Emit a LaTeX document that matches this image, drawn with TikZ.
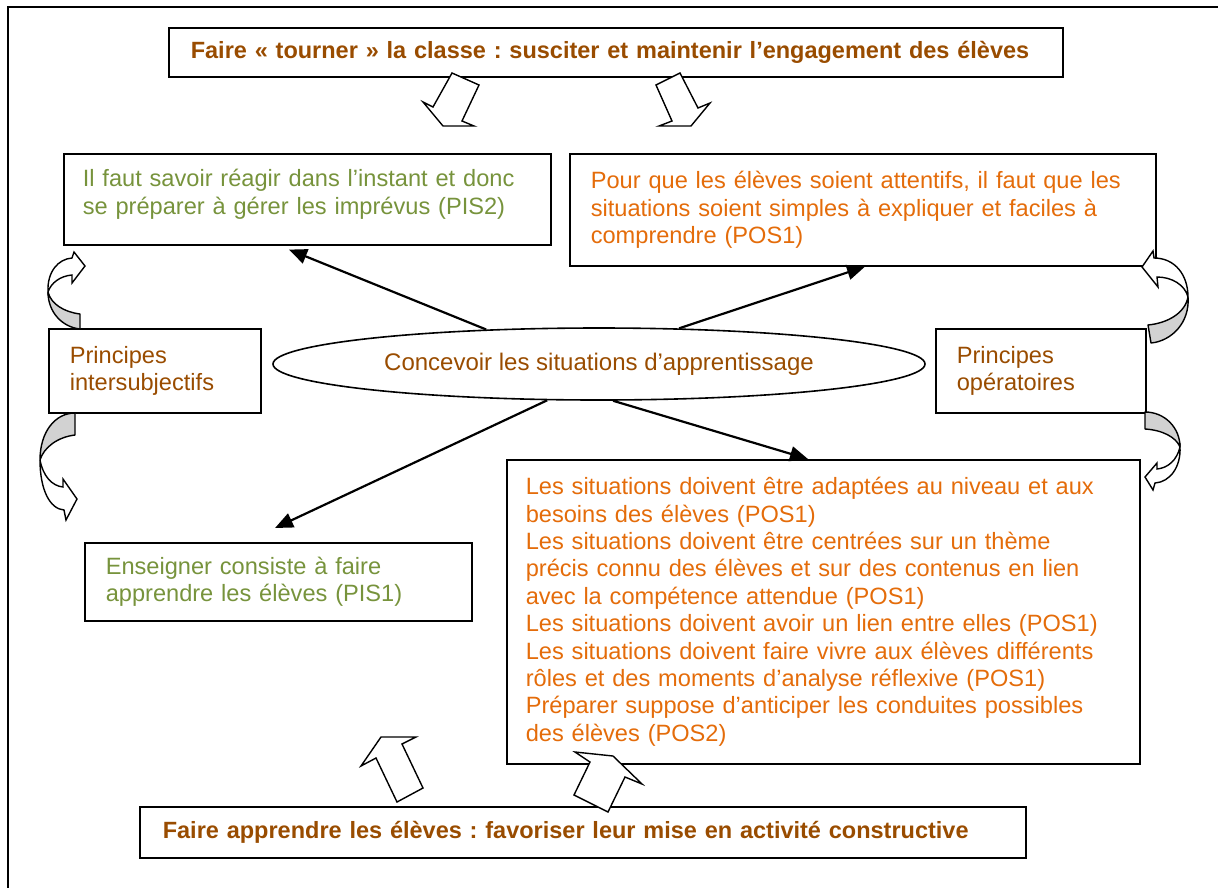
\documentclass[tikz,border=0pt]{standalone}
\usepackage{fontspec}
\setmainfont{Liberation Sans}
\usetikzlibrary{shapes.geometric,arrows.meta,calc}
\definecolor{brun}{RGB}{153,76,0}
\definecolor{orangeT}{RGB}{228,108,10}
\definecolor{vert}{RGB}{119,147,60}
\definecolor{ombre}{RGB}{210,210,210}
\frenchspacing

\begin{document}
\begin{tikzpicture}[x=1pt,y=-1pt,
  box/.style={draw, line width=1.6pt, align=left, anchor=north west,
    font=\fontsize{23.6}{27.4}\selectfont, inner ysep=0pt},
  titre/.style={box, font=\fontsize{23.5}{27.5}\selectfont\bfseries, text=brun},
  lien/.style={line width=2.2pt, -{Triangle[length=18pt,width=15pt]}},
  bloc/.style={draw, line width=1.4pt, fill=white, line join=miter},
  ruban/.style={draw, line width=1.4pt, fill=ombre, line join=round}]
\useasboundingbox (0,0) rectangle (1218,887);
\clip (0,0) rectangle (1218,887);
% page frame
\draw[line width=2pt] (8,7) rectangle (1240,910);

% titles
\node[titre, inner xsep=22pt, text width=850pt, minimum height=49pt] (haut) at (168,27)
  {\mbox{Faire « tourner » la classe : susciter et maintenir l’engagement des élèves}};
\node[titre, inner xsep=23pt, text width=840pt, minimum height=51pt] (bas) at (139,806)
  {\mbox{Faire apprendre les élèves : favoriser leur mise en activité constructive}};

% principle boxes
\node[box, text=vert, inner xsep=19pt, text width=449pt, minimum height=91pt, text depth=42pt] (pis2) at (63,153)
  {Il faut savoir réagir dans l’instant et donc\\se préparer à gérer les imprévus (PIS2)};
\node[box, text=orangeT, inner xsep=21pt, text width=544pt, minimum height=112pt] (pos1) at (569,153)
  {Pour que les élèves soient attentifs, il faut que les\\situations soient simples à expliquer et faciles à\\comprendre (POS1)};
\node[box, text=brun, inner xsep=21pt, text width=170pt, minimum height=84pt] (inter) at (48,328)
  {Principes\\intersubjectifs};
\node[box, text=brun, inner xsep=21pt, text width=168pt, minimum height=84pt] (oper) at (935,328)
  {Principes\\opératoires};
\node[box, text=vert, inner xsep=21pt, text width=345pt, minimum height=78pt] (pis1) at (84,542)
  {Enseigner consiste à faire\\apprendre les élèves (PIS1)};
\node[box, text=orangeT, inner xsep=19pt, text width=595pt, minimum height=304pt] (pos) at (506,459)
  {Les situations doivent être adaptées au niveau et aux\\besoins des élèves (POS1)\\Les situations doivent être centrées sur un thème\\précis connu des élèves et sur des contenus en lien\\avec la compétence attendue (POS1)\\Les situations doivent avoir un lien entre elles (POS1)\\Les situations doivent faire vivre aux élèves différents\\rôles et des moments d’analyse réflexive (POS1)\\Préparer suppose d’anticiper les conduites possibles\\des élèves (POS2)};

% central ellipse
\node[draw, ellipse, line width=1.6pt, minimum width=652pt, minimum height=72pt, inner sep=0pt,
  text=brun, font=\fontsize{24}{27.5}\selectfont] (ell) at (599,364)
  {Concevoir les situations d’apprentissage};

% connectors
\draw[lien] (ell.163) -- ($(pis2.south west)+(226,4)$);
\draw[lien] (ell.24) -- ($(pos1.south west)+(296,0)$);
\draw[lien] (ell.291) -- ($(pos.north west)+(302,0)$);
\draw[lien] (ell.215) -- ($(pis1.north west)+(191,-14)$);

% block arrows
\draw[bloc] (452,73) -- (433,107) -- (423,102) -- (443,126) -- (474,126) -- (462,121) -- (479,85) -- cycle;
\draw[bloc] (680,73) -- (698,108) -- (710,103) -- (691,126) -- (659,126) -- (672,121) -- (656,85) -- cycle;
\draw[bloc] (381,737) -- (416,737) -- (402,744) -- (423,788) -- (397,802) -- (376,758) -- (361,766) -- cycle;
\draw[bloc] (575,752) -- (613,756) -- (642,784) -- (625,777) -- (608,812) -- (574,795) -- (590,762) -- cycle;

% curved arrows, left side
\draw[ruban] (48,292) .. controls (48,312) and (62,327) .. (80,329) -- (80,314)
  .. controls (64,312) and (51,304) .. (48,292) -- cycle;
\draw[bloc] (48,292) .. controls (47,272) and (58,259) .. (72,258) -- (74,252) -- (85,266) -- (72,283) -- (72,275)
  .. controls (60,276) and (51,283) .. (48,292) -- cycle;
\draw[ruban] (75,413) -- (75,435) .. controls (58,437) and (44,447) .. (40,460)
  .. controls (40,432) and (55,413) .. (75,413) -- cycle;
\draw[bloc] (40,460) .. controls (40,490) and (50,509) .. (64,510) -- (66,520) -- (77,499) -- (63,479) -- (63,487)
  .. controls (52,486) and (43,476) .. (40,460) -- cycle;

% curved arrows, right side
\draw[bloc] (1188,297) .. controls (1188,275) and (1175,258) .. (1154,258) -- (1153,251) -- (1142,267) -- (1158,287) -- (1157,277)
  .. controls (1172,277) and (1185,285) .. (1188,297) -- cycle;
\draw[ruban] (1188,297) .. controls (1190,322) and (1172,341) .. (1151,343) -- (1148,325)
  .. controls (1168,323) and (1185,313) .. (1188,297) -- cycle;
\draw[ruban] (1145,412) .. controls (1165,412) and (1180,428) .. (1180,447)
  .. controls (1176,437) and (1162,430) .. (1145,429) -- cycle;
\draw[bloc] (1180,447) .. controls (1181,467) and (1170,482) .. (1155,483) -- (1153,490) -- (1145,477) -- (1157,463) -- (1157,469)
  .. controls (1168,468) and (1177,460) .. (1180,447) -- cycle;
\end{tikzpicture}
\end{document}
